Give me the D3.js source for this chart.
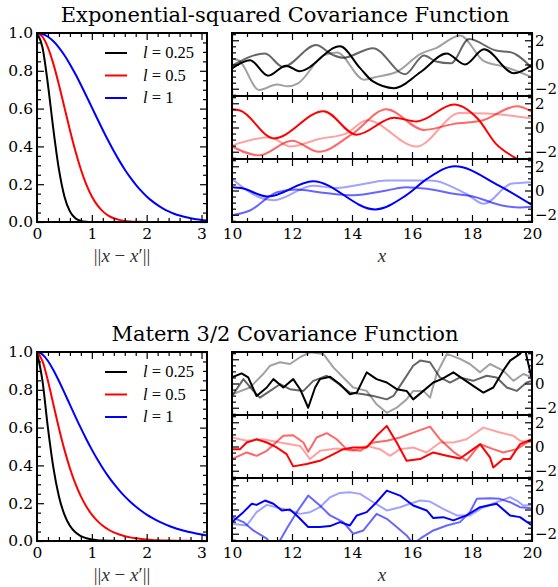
<!DOCTYPE html>
<html>
<head>
<meta charset="utf-8">
<script src="https://cdn.jsdelivr.net/npm/d3@7"></script>
<style>body{margin:0;background:#fff}</style>
</head>
<body>
<svg id="chart" width="558" height="587" xmlns="http://www.w3.org/2000/svg"></svg>
<script>
// ---- covariance functions, tabulated on a grid of separations ----
const rGrid = [0,0.1,0.2,0.3,0.4,0.5,0.6,0.7,0.8,0.9,1.0,1.1,1.2,1.3,1.4,1.5,1.6,1.7,1.8,1.9,2.0,2.1,2.2,2.3,2.4,2.5,2.6,2.7,2.8,2.9,3.0,3.1];
const lengthLabels = ["0.25", "0.5", "1"];

const sqexpL025 = [1,0.9231,0.7261,0.4868,0.2780,0.1353,0.0561,0.0198,0.0060,0.0015,0.0003,0,0,0,0,0,0,0,0,0,0,0,0,0,0,0,0,0,0,0,0,0];
const sqexpL05  = [1,0.9802,0.9231,0.8353,0.7261,0.6065,0.4868,0.3753,0.2780,0.1979,0.1353,0.0889,0.0561,0.0340,0.0198,0.0111,0.0060,0.0031,0.0015,0.0007,0.0003,0,0,0,0,0,0,0,0,0,0,0];
const sqexpL1   = [1,0.9950,0.9802,0.9560,0.9231,0.8825,0.8353,0.7827,0.7261,0.6670,0.6065,0.5461,0.4868,0.4296,0.3753,0.3247,0.2780,0.2357,0.1979,0.1645,0.1353,0.1103,0.0889,0.0710,0.0561,0.0439,0.0340,0.0261,0.0198,0.0149,0.0111,0.0082];

const maternL025 = [1,0.8468,0.5969,0.3852,0.2360,0.1397,0.0807,0.0458,0.0256,0.0142,0.0078,0.0042,0.0023,0.0012,0.0007,0.0004,0.0002,0,0,0,0,0,0,0,0,0,0,0,0,0,0,0];
const maternL05  = [1,0.9522,0.8468,0.7213,0.5969,0.4834,0.3852,0.3031,0.2360,0.1823,0.1397,0.1065,0.0807,0.0609,0.0458,0.0343,0.0256,0.0191,0.0142,0.0105,0.0078,0.0057,0.0042,0.0031,0.0023,0.0017,0.0012,0.0009,0.0007,0.0005,0.0004,0.0003];
const maternL1   = [1,0.9867,0.9522,0.9039,0.8468,0.7849,0.7213,0.6582,0.5969,0.5384,0.4834,0.4323,0.3852,0.3421,0.3031,0.2677,0.2360,0.2076,0.1823,0.1597,0.1397,0.1221,0.1065,0.0928,0.0807,0.0702,0.0609,0.0529,0.0458,0.0397,0.0343,0.0297];

// ---- random draws from each process, [x, f(x)] ----
const sqexpBlack     = [[10,-0.32],[10.6,0.35],[11.2,-0.92],[11.8,-0.1],[12.25,-0.55],[13.6,1.5],[14.27,-0.3],[14.7,-1.4],[15.4,-1.95],[16.3,-0.6],[17.15,0.9],[17.77,0.0],[18.4,1.25],[19.4,-0.73],[20,-0.05]];
const sqexpGrayMid   = [[10,-0.1],[11.1,0.9],[11.7,-0.2],[12.8,1.6],[13.35,0.8],[13.7,0.55],[14.7,1.35],[15.77,-0.8],[16.4,0.75],[16.8,0.25],[17.3,0.1],[17.9,2.1],[18.8,1.15],[19.3,1.0],[20,-0.3]];
const sqexpGrayLight = [[10,0.5],[10.25,0.3],[10.9,-2.1],[11.5,-1.65],[11.85,-1.8],[12.2,-1.55],[13.05,0.75],[13.5,1.0],[14.4,-1.25],[14.85,-1.0],[15.5,-0.6],[16.3,0.9],[16.8,1.35],[17.6,2.4],[18.4,0.27],[19.1,-0.2],[20,-1.05]];

const sqexpRed      = [[10,1.5],[10.27,1.4],[11.4,-0.9],[13.05,1.35],[14.15,-0.6],[15.4,0.8],[16.15,0.5],[17.4,1.9],[18.2,0.7],[18.8,-1.35],[19.4,-2.45],[20,-3.3]];
const sqexpRedMid   = [[10,-1.57],[10.9,-2.3],[12.0,-1.1],[12.9,-2.0],[14.0,-0.55],[15.15,1.5],[16.4,-0.2],[17.4,0.3],[18.3,0.55],[19.5,1.75],[20,1.3]];
const sqexpRedLight = [[10,-1.5],[11.25,-0.8],[11.95,-1.57],[12.9,-0.95],[13.8,-0.5],[14.5,0.6],[16.15,-1.57],[17.6,1.2],[18.5,1.15],[19.25,1.0],[20,0.75]];

const sqexpBlue      = [[10,0.27],[10.3,0.2],[11.2,-0.5],[12.7,0.77],[14.77,-1.56],[15.8,-0.4],[16.5,0.96],[17.43,2.0],[18.9,0.4],[20,-1.2]];
const sqexpBlueMid   = [[10,-2.05],[10.6,-1.65],[11.5,-0.14],[12.15,0.08],[12.9,-0.14],[14.05,-0.4],[15.15,0.0],[15.8,0.27],[16.5,0.14],[17.4,-0.27],[18.0,-0.47],[19.0,-1.23],[19.6,-1.4],[20,-1.35]];
const sqexpBlueLight = [[10,0.96],[11.05,-0.68],[11.4,-0.8],[12.7,0.4],[13.5,0.2],[14.25,0.47],[15.15,0.82],[16.6,0.82],[17.8,-0.27],[18.4,-1.1],[19.3,0.55],[20,0.68]];

const maternBlack     = [[10,0.5],[10.32,0.83],[10.54,0.5],[10.82,-1.03],[11.16,-0.33],[11.38,0.36],[11.71,-0.33],[12.04,0.36],[12.27,-0.47],[12.54,-2.0],[12.77,-0.33],[12.93,0.36],[13.27,0.56],[13.6,-0.06],[13.93,-0.89],[14.16,-0.75],[14.49,0.92],[14.82,0.36],[15.16,0.08],[15.49,-0.47],[15.82,-0.61],[16.04,-1.31],[16.38,-0.61],[16.71,0.08],[16.99,0.36],[17.38,0.92],[17.71,0.36],[18.04,-0.19],[18.38,-0.75],[18.71,-0.33],[19.04,1.06],[19.27,1.89],[19.6,2.44],[19.75,3.0],[20,0.3]];
const maternGrayMid   = [[10,-1.03],[10.38,0.36],[10.71,-0.61],[10.93,-1.17],[11.27,-0.61],[11.6,-0.06],[11.93,-0.47],[12.38,-0.61],[12.71,0.22],[13.16,0.64],[13.49,0.08],[13.93,-0.75],[14.38,-0.89],[14.71,-1.03],[15.16,-1.31],[15.38,-1.03],[15.71,0.22],[16.04,1.47],[16.27,1.89],[16.6,1.75],[16.93,0.5],[17.27,0.08],[17.6,0.5],[18.04,0.22],[18.49,0.64],[18.82,0.5],[19.16,-0.33],[19.49,-0.61],[19.82,0.08],[20,0.22]];
const maternGrayLight = [[10,-0.89],[10.6,-0.33],[11.04,0.78],[11.27,1.47],[11.6,1.75],[11.93,1.61],[12.27,2.17],[12.6,2.58],[13.04,2.44],[13.38,1.33],[13.71,0.5],[14.04,-0.33],[14.49,-0.61],[14.82,-1.72],[15.16,-2.42],[15.49,-2.0],[15.82,-1.31],[16.04,-0.61],[16.38,-0.61],[16.6,-1.17],[16.82,0.78],[17.16,2.44],[17.6,2.03],[17.93,1.61],[18.27,0.92],[18.6,1.61],[19.04,1.06],[19.38,0.22],[19.71,0.78],[20,0.5]];

const maternRed      = [[10,-0.22],[10.27,-0.22],[10.49,0.33],[10.82,0.6],[11.16,0.33],[11.49,-0.08],[11.82,-0.63],[12.04,-1.64],[12.49,-1.45],[12.93,-1.18],[13.27,-0.77],[13.71,-0.22],[14.04,-0.08],[14.49,-0.08],[14.82,0.88],[15.16,1.7],[15.49,0.33],[15.82,-1.18],[16.27,-1.04],[16.71,-0.49],[17.16,-0.77],[17.6,-0.99],[18.04,-0.22],[18.27,0.19],[18.6,-0.9],[18.71,-1.73],[19.04,-1.04],[19.27,-1.04],[19.6,0.19],[20,0.6]];
const maternRedMid   = [[10,-1.04],[10.49,-0.49],[10.82,-0.77],[11.16,-0.36],[11.71,0.88],[12.04,0.93],[12.38,0.33],[12.54,-0.44],[12.82,0.74],[13.16,1.1],[13.49,0.6],[13.82,-0.22],[14.27,-0.36],[14.71,0.33],[15.16,0.47],[15.6,0.74],[16.04,1.15],[16.6,1.64],[16.93,0.6],[17.38,-0.44],[17.82,-1.18],[18.27,0.19],[18.71,-0.22],[19.04,-0.49],[19.49,-0.22],[20,0.6]];
const maternRedLight = [[10,0.74],[10.49,0.47],[11.04,0.6],[11.6,0.33],[12.27,0.05],[12.6,-1.04],[12.93,-0.36],[13.49,-0.16],[14.04,-0.36],[14.49,0.05],[14.93,-0.22],[15.27,-0.77],[15.6,-0.22],[16.04,-0.08],[16.49,-0.49],[16.93,0.33],[17.38,0.33],[17.82,0.6],[18.38,1.56],[18.93,1.15],[19.38,0.88],[19.6,0.47],[20,0.33]];

const maternBlue      = [[10,-1.04],[10.38,-0.22],[10.66,0.47],[10.82,0.38],[11.1,0.74],[11.38,0.47],[11.66,-0.08],[11.93,0],[12.16,-0.49],[12.54,-1.45],[12.93,-1.45],[13.27,-1.37],[13.6,-1.04],[13.93,-1.32],[14.16,-0.49],[14.49,-0.22],[14.82,0.6],[15.16,1.56],[15.6,1.15],[16.04,0.33],[16.49,-0.08],[16.71,-0.71],[17.04,-0.63],[17.38,-0.9],[17.82,-0.49],[18.27,0.19],[18.82,0.47],[19.27,-0.49],[19.6,-0.63],[20,-1.32]];
const maternBlueMid   = [[10,-0.63],[10.38,-1.04],[10.71,-1.73],[11.16,-2.41],[11.38,-3.1],[11.6,-2.55],[11.82,-1.59],[12.16,-0.22],[12.54,1.15],[12.93,0.33],[13.27,-0.49],[13.71,-1.04],[14.04,-2.0],[14.38,-1.73],[14.82,-0.36],[15.16,-0.77],[15.49,-1.45],[15.82,-2.14],[16.04,-2.82],[16.27,-2.41],[16.71,-1.73],[17.16,-1.32],[17.6,-1.04],[17.93,-0.22],[18.16,0.88],[18.6,0.93],[18.93,0.88],[19.27,0.6],[19.6,0.19],[20,0.11]];
const maternBlueLight = [[10,-1.18],[10.49,-1.32],[10.82,-0.22],[11.16,0.38],[11.6,0.11],[11.93,-0.08],[12.27,-0.36],[12.6,-0.22],[12.93,0.19],[13.27,1.01],[13.6,1.37],[13.93,1.42],[14.27,1.29],[14.71,0.6],[15.16,-0.08],[15.6,0.19],[15.93,0.47],[16.27,0.74],[16.6,0.66],[17.04,0.05],[17.49,-0.49],[17.93,-0.49],[18.38,0.19],[18.82,0.6],[19.27,1.01],[19.49,0.74],[19.71,0.33],[20,0.38]];

// ---- tick values ----
const covXTicks = [0,1,2,3];
const covYTicks = [0,0.2,0.4,0.6,0.8,1.0];
const sampleXTicks = [10,12,14,16,18,20];
const sampleYTicks = [-2,0,2];

const colors = ["#000000", "#ff0000", "#0000ff"];
const shadeOpacity = [0.37, 0.6, 1];

// ---- assemble the two rows ----
const rows = [
  { title: "Exponential-squared Covariance Function",
    curves: [sqexpL025, sqexpL05, sqexpL1],
    draws: [[sqexpGrayLight, sqexpGrayMid, sqexpBlack],
            [sqexpRedLight, sqexpRedMid, sqexpRed],
            [sqexpBlueLight, sqexpBlueMid, sqexpBlue]],
    smooth: true },
  { title: "Matern 3/2 Covariance Function",
    curves: [maternL025, maternL05, maternL1],
    draws: [[maternGrayLight, maternGrayMid, maternBlack],
            [maternRedLight, maternRedMid, maternRed],
            [maternBlueLight, maternBlueMid, maternBlue]],
    smooth: false }
];

const serif = '"DejaVu Serif", serif';
const mathFont = '"Liberation Serif", "DejaVu Serif", serif';
const leftX = [37, 207], rightX = [232, 532];
const rowTop = [33, 352], rowH = 189;

const svg = d3.select("#chart");
const defs = svg.append("defs");
let clipId = 0;

function minorBetween(lo, hi, step, majors) {
  const out = [];
  const n = Math.round((hi - lo) / step);
  for (let i = 0; i <= n; i++) {
    const v = +(lo + i * step).toFixed(6);
    if (!majors.some(m => Math.abs(m - v) < 1e-9)) out.push(v);
  }
  return out;
}

function tickSet(g, gen, vals, size, fmt, pad, tr, fs) {
  gen.tickValues(vals).tickSizeInner(-size).tickSizeOuter(0).tickPadding(pad)
     .tickFormat(fmt || (() => ""));
  const s = g.append("g").attr("transform", tr).call(gen);
  s.select(".domain").remove();
  s.selectAll("line").attr("stroke", "#000").attr("stroke-width", 1.2);
  s.selectAll("text").attr("font-family", serif).attr("font-size", fs || 15.5).attr("fill", "#000");
  return s;
}

// inward ticks on all four sides, labels where requested
function frame(g, x, y, o) {
  const [x0, x1] = x.range();
  const [yb, yt] = y.range();
  tickSet(g, d3.axisBottom(x), o.xMajor, 7, o.xLabel, 6, `translate(0,${yb})`);
  tickSet(g, d3.axisBottom(x), o.xMinor, 4, null, 0, `translate(0,${yb})`);
  tickSet(g, d3.axisTop(x), o.xMajor, 7, null, 0, `translate(0,${yt})`);
  tickSet(g, d3.axisTop(x), o.xMinor, 4, null, 0, `translate(0,${yt})`);
  tickSet(g, d3.axisLeft(y), o.yMajor, 7, o.yLeftLabel, 4, `translate(${x0},0)`);
  tickSet(g, d3.axisLeft(y), o.yMinor, 4, null, 0, `translate(${x0},0)`);
  tickSet(g, d3.axisRight(y), o.yMajor, 7, o.yRightLabel, 3, `translate(${x1},0)`, 15);
  tickSet(g, d3.axisRight(y), o.yMinor, 4, null, 0, `translate(${x1},0)`);
  g.append("rect").attr("x", x0).attr("y", yt).attr("width", x1 - x0).attr("height", yb - yt)
    .attr("fill", "none").attr("stroke", "#000").attr("stroke-width", 2);
}

function clipRect(x, y) {
  const id = "clip" + (clipId++);
  const [x0, x1] = x.range(), [yb, yt] = y.range();
  defs.append("clipPath").attr("id", id).append("rect")
    .attr("x", x0).attr("y", yt).attr("width", x1 - x0).attr("height", yb - yt);
  return `url(#${id})`;
}

rows.forEach((row, ri) => {
  const top = rowTop[ri], bottom = top + rowH;
  const g = svg.append("g");

  g.append("text").attr("x", 285).attr("y", top - 11).attr("text-anchor", "middle")
    .attr("font-family", serif).attr("font-size", 21).text(row.title);

  // covariance panel
  const xc = d3.scaleLinear().domain([0, 3.1]).range(leftX);
  const yc = d3.scaleLinear().domain([0, 1]).range([bottom, top]);
  const gc = g.append("g");
  const cp = clipRect(xc, yc);
  const covLine = d3.line().x((d, i) => xc(rGrid[i])).y(d => yc(d)).curve(d3.curveMonotoneX);
  row.curves.forEach((c, k) => {
    gc.append("path").attr("d", covLine(c)).attr("clip-path", cp)
      .attr("fill", "none").attr("stroke", colors[k]).attr("stroke-width", 2);
  });
  frame(gc, xc, yc, {
    xMajor: covXTicks, xMinor: minorBetween(0, 3, 0.2, covXTicks), xLabel: d3.format("d"),
    yMajor: covYTicks, yMinor: minorBetween(0, 1, 0.05, covYTicks), yLeftLabel: d3.format(".1f")
  });

  // legend
  const lg = gc.append("g");
  lengthLabels.forEach((lab, k) => {
    const yy = top + 20 + k * 22.5;
    lg.append("line").attr("x1", 105).attr("x2", 127).attr("y1", yy).attr("y2", yy)
      .attr("stroke", colors[k]).attr("stroke-width", 2);
    const t = lg.append("text").attr("x", 143).attr("y", yy + 5)
      .attr("font-family", mathFont).attr("font-size", 16.5);
    t.append("tspan").attr("font-style", "italic").text("l");
    t.append("tspan").text(" = " + lab);
  });

  const xl = gc.append("text").attr("x", (leftX[0] + leftX[1]) / 2).attr("y", bottom + 40)
    .attr("text-anchor", "middle").attr("font-family", mathFont).attr("font-size", 19).attr("fill", "#333");
  xl.append("tspan").text("||");
  xl.append("tspan").attr("font-style", "italic").text("x");
  xl.append("tspan").text(" \u2212 ");
  xl.append("tspan").attr("font-style", "italic").text("x");
  xl.append("tspan").text("\u2032||");

  // sample panels
  const ph = rowH / 3;
  const xs = d3.scaleLinear().domain([10, 20]).range(rightX);
  row.draws.forEach((set, k) => {
    const pt = top + k * ph, pb = pt + ph;
    const ys = d3.scaleLinear().domain([-2.6, 2.6]).range([pb, pt]);
    const gs = g.append("g");
    const cps = clipRect(xs, ys);
    const line = d3.line().x(d => xs(d[0])).y(d => ys(d[1]))
      .curve(row.smooth ? d3.curveMonotoneX : d3.curveLinear);
    set.forEach((pts, j) => {
      gs.append("path").attr("d", line(pts)).attr("clip-path", cps)
        .attr("fill", "none").attr("stroke", colors[k]).attr("stroke-opacity", shadeOpacity[j])
        .attr("stroke-width", 2).attr("stroke-linejoin", "round");
    });
    frame(gs, xs, ys, {
      xMajor: sampleXTicks, xMinor: minorBetween(10, 20, 0.5, sampleXTicks),
      xLabel: k === 2 ? d3.format("d") : null,
      yMajor: sampleYTicks, yMinor: minorBetween(-2.5, 2.5, 0.5, sampleYTicks),
      yRightLabel: d3.format("d")
    });
  });
  g.append("text").attr("x", (rightX[0] + rightX[1]) / 2).attr("y", bottom + 40)
    .attr("text-anchor", "middle").attr("font-family", mathFont).attr("font-size", 19)
    .attr("font-style", "italic").attr("fill", "#333").text("x");
});
</script>
</body>
</html>
